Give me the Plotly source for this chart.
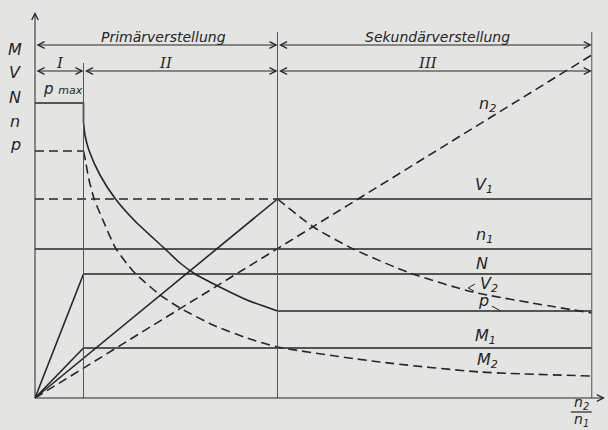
import plotly.graph_objects as go

# ---- phase boundaries on the n2/n1 axis ----
x_I = 1.0       # end of range I
x_II = 5.0      # end of range II (Primärverstellung)
x_end = 11.48   # end of range III (Sekundärverstellung)

# ---- characteristics ----
N_x = [0.0, 1.0, 11.48]
N_y = [0, 124, 124]
M1_x = [0.0, 1.0, 11.48]
M1_y = [0, 50, 50]
n1_x = [0.0, 11.48]
n1_y = [149, 149]
n2_x = [0.0, 11.48]
n2_y = [0, 343]
Vrise_x = [0.0, 5.0]
Vrise_y = [0, 199]
V1dash_x = [0.0, 5.0]
V1dash_y = [199, 199]
V1_x = [5.0, 11.48]
V1_y = [199, 199]
pmax_x = [0.0, 1.0, 1.0]
pmax_y = [295, 295, 276]
p_x = [1.0, 1.03, 1.11, 1.34, 1.66, 2.06, 2.66, 2.99, 3.30, 3.81, 4.37, 5.0]
p_y = [276, 263, 248, 223, 199, 177, 150, 135, 124, 111, 98, 87]
pend_x = [5.0, 11.48]
pend_y = [87, 87]
pdash_x = [0.0, 1.0]
pdash_y = [247, 247]
M2_x = [1.0, 1.05, 1.10, 1.22, 1.40, 1.66, 2.02, 2.58, 2.99, 3.67, 4.37, 5.0, 7.11, 9.18, 11.48]
M2_y = [247, 235, 221, 199, 178, 150, 127, 103, 90, 73, 60, 51, 36, 26, 22]
V2_x = [5.0, 5.74, 6.56, 7.73, 9.03, 11.48]
V2_y = [199, 171, 149, 125, 106, 85]

INK = "#262626"
BG = "#e4e4e2"
DASH = "9px,5px"
LW = 1.6

fig = go.Figure()

def add(x, y, dash=None, spline=False):
    fig.add_trace(go.Scatter(
        x=x, y=y, mode="lines",
        line=dict(color=INK, width=LW, dash=dash if dash else "solid",
                  shape="spline" if spline else "linear", smoothing=0.6),
        hoverinfo="skip", showlegend=False))

add(N_x, N_y)
add(M1_x, M1_y)
add(n1_x, n1_y)
add(n2_x, n2_y, DASH)
add(Vrise_x, Vrise_y)
add(V1dash_x, V1dash_y, DASH)
add(V1_x, V1_y)
add(pmax_x, pmax_y)
add(p_x, p_y, spline=True)
add(pend_x, pend_y)
add(pdash_x, pdash_y, DASH)
add(M2_x, M2_y, DASH, spline=True)
add(V2_x, V2_y, DASH, spline=True)

shapes = []
# vertical boundary lines
for xv, top in [(x_I, 335), (x_II, 366), (x_end, 366)]:
    shapes.append(dict(type="line", x0=xv, x1=xv, y0=0, y1=top,
                       line=dict(color="#555555", width=1)))
# leader lines for V2 and p labels
shapes.append(dict(type="path", path="M 9.07,114 L 8.93,110 L 9.05,107",
                   line=dict(color=INK, width=1)))
shapes.append(dict(type="line", x0=9.42, y0=92, x1=9.60, y1=87,
                   line=dict(color=INK, width=1)))
# fraction bar n2/n1
shapes.append(dict(type="line", x0=11.05, x1=11.48, y0=-14, y1=-14,
                   line=dict(color=INK, width=1.2)))

ann = []
def arrow(x0, y0, x1, y1, both=False):
    ann.append(dict(x=x1, y=y1, ax=x0, ay=y0, xref="x", yref="y", axref="x", ayref="y",
                    text="", showarrow=True, arrowhead=5, startarrowhead=5,
                    arrowsize=1.3, startarrowsize=1.3, arrowwidth=1, arrowcolor=INK,
                    arrowside="end+start" if both else "end", standoff=0, startstandoff=0))

# axes
arrow(0, 0, 11.75, 0)
arrow(0, 0, 0, 386)
# phase ranges
arrow(0, 353, x_II, 353, both=True)
arrow(x_II, 353, x_end, 353, both=True)
arrow(0, 327, x_I, 327, both=True)
arrow(x_I, 327, x_II, 327, both=True)
arrow(x_II, 327, x_end, 327, both=True)

def txt(x, y, s, size=15, family="DejaVu Sans"):
    ann.append(dict(x=x, y=y, xref="x", yref="y", text=s, showarrow=False,
                    font=dict(family=family, size=size, color=INK, style="italic"),
                    xanchor="center", yanchor="middle"))

# left axis symbols
for s, yy in [("M", 349), ("V", 326), ("N", 301), ("n", 277), ("p", 254)]:
    txt(-0.41, yy, s, 16)

txt(2.64, 361, "Primärverstellung", 14)
txt(8.29, 361, "Sekundärverstellung", 14)
txt(0.52, 335, "I", 15, "DejaVu Serif")
txt(2.70, 335, "II", 15, "DejaVu Serif")
txt(8.10, 335, "III", 15, "DejaVu Serif")
txt(0.58, 309, "p <span style='font-size:11px'>max</span>", 15)

txt(9.32, 294, "n<sub>2</sub>", 16)
txt(9.26, 213, "V<sub>1</sub>", 16)
txt(9.26, 163, "n<sub>1</sub>", 16)
txt(9.22, 135, "N", 16)
txt(9.36, 114, "V<sub>2</sub>", 16)
txt(9.24, 98, "p", 16)
txt(9.28, 62, "M<sub>1</sub>", 16)
txt(9.32, 38, "M<sub>2</sub>", 16)
txt(11.27, -5, "n<sub>2</sub>", 14)
txt(11.27, -22, "n<sub>1</sub>", 14)

fig.update_layout(
    width=608, height=430,
    margin=dict(l=0, r=0, t=0, b=0),
    paper_bgcolor=BG, plot_bgcolor=BG,
    xaxis=dict(range=[-35 / 48.5, 573 / 48.5], visible=False, fixedrange=True),
    yaxis=dict(range=[-32, 398], visible=False, fixedrange=True),
    shapes=shapes, annotations=ann,
)

fig.write_html(
    "out.html",
    config={"displayModeBar": False},
    post_script="document.body.style.margin='0';document.body.style.background='%s';" % BG,
)
